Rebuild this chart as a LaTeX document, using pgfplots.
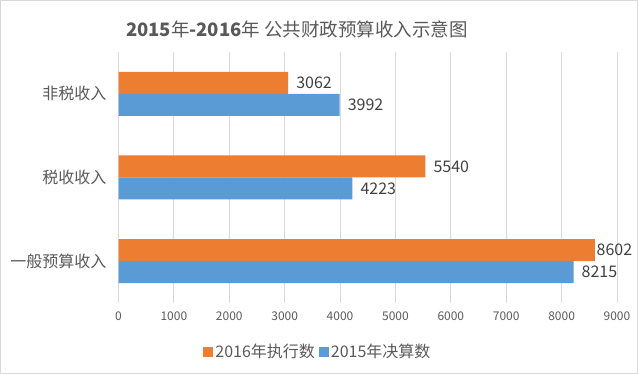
\documentclass[border=0pt]{standalone}
\usepackage{pgfplots}
\pgfplotsset{compat=1.18}
\usepackage{pgfplotstable}
\usepackage{fontspec}
\setmainfont{Noto Sans CJK SC}
\definecolor{cOr}{HTML}{ED7D31}
\definecolor{cBl}{HTML}{5B9BD5}
\definecolor{cTx}{HTML}{595959}
\definecolor{cGr}{HTML}{D9D9D9}
\definecolor{cLb}{HTML}{404040}

\pgfplotstableread{
c v lab dx
0 8602 8602 1.5
1 5540 5540 8
2 3062 3062 8
}\orangedata
\pgfplotstableread{
c v lab dx
0 8215 8215 8
1 4223 4223 8
2 3992 3992 8
}\bluedata

\begin{document}
\begin{tikzpicture}
\useasboundingbox (0pt,0pt) rectangle (638pt,374pt);
\draw[cGr] (0.5pt,0.5pt) rectangle (637.5pt,373.5pt);
\node[text=cTx, font=\fontsize{18.5}{22}\selectfont] at (297pt,345pt) {\textbf{2015}年\textbf{-2016}年 公共财政预算收入示意图};
\begin{axis}[
 at={(118.5pt,71pt)}, anchor=south west,
 width=498.5pt, height=251pt, scale only axis,
 xbar,
 xmin=0, xmax=9000, ymin=-0.5, ymax=2.5,
 xtick={0,1000,...,9000}, ytick={0,1,2},
 yticklabels={一般预算收入,税收收入,非税收入},
 xmajorgrids, grid style={cGr, line width=0.8pt},
 axis line style={draw=none},
 major tick length=0pt,
 tick label style={text=cTx},
 xticklabel style={font=\fontsize{12}{14}\selectfont, inner sep=0pt, yshift=-9pt},
 yticklabel style={font=\fontsize{16}{18}\selectfont, inner sep=0pt, xshift=-12pt},
 /pgf/number format/assume math mode=true,
 /pgf/number format/1000 sep={},
 bar width=22pt,
 nodes near coords,
 point meta=explicit symbolic,
 visualization depends on={\thisrow{dx} \as \dx},
 nodes near coords style={anchor=west, inner sep=0pt, xshift=\dx pt, text=cLb, font=\fontsize{16}{18}\selectfont},
 legend columns=2,
 legend style={draw=none, fill=none, at={(0.4,-0.195)}, anchor=center, font=\fontsize{16}{18}\selectfont, text=cTx, /tikz/every even column/.append style={column sep=2pt}},
 legend image code/.code={\fill[#1] (2pt,-5pt) rectangle (12pt,5pt);},
]
\addplot[draw=none, fill=cOr, bar shift=11pt] table[x=v, y=c, meta=lab]{\orangedata};
\addplot[draw=none, fill=cBl, bar shift=-11pt] table[x=v, y=c, meta=lab]{\bluedata};
\legend{2016年执行数, 2015年决算数}
\end{axis}
\end{tikzpicture}
\end{document}
